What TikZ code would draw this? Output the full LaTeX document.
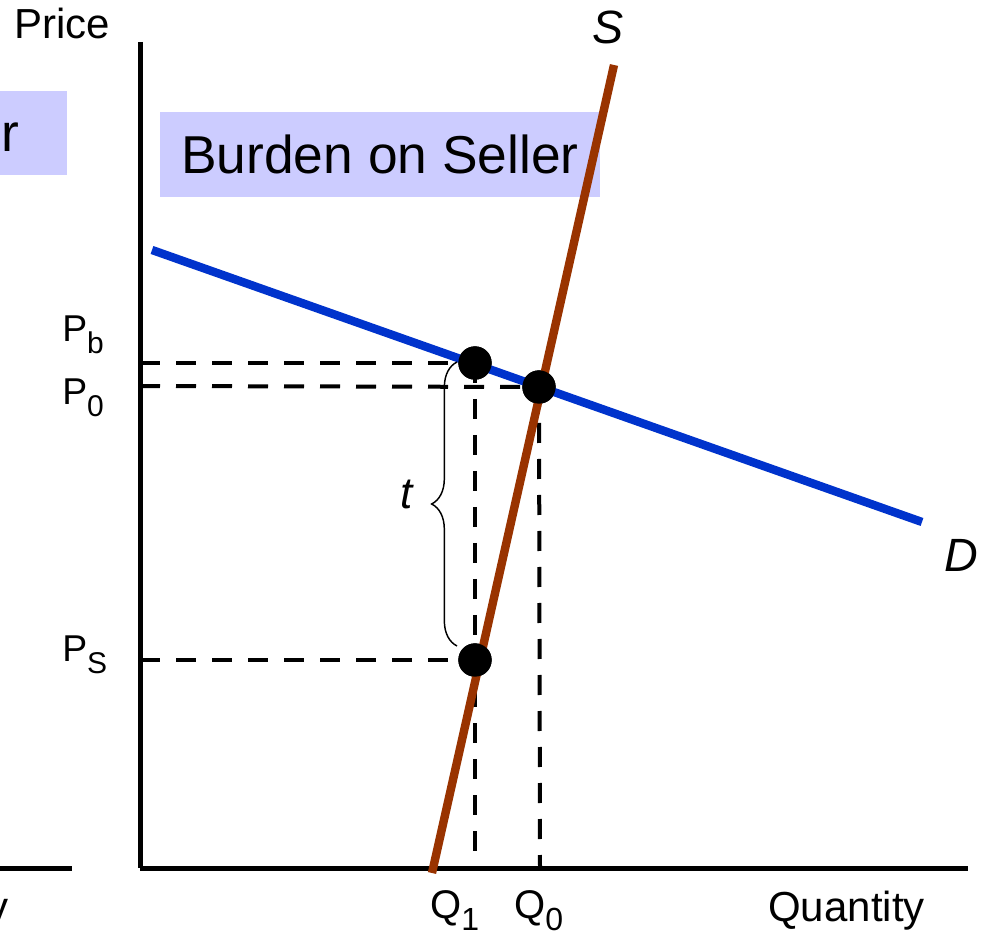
\documentclass[tikz,border=0pt]{standalone}
\usepackage{fontspec}
\setmainfont{Liberation Sans}
\usetikzlibrary{decorations.pathreplacing}
\definecolor{dblue}{HTML}{0033CC}
\definecolor{sbrown}{HTML}{993300}
\definecolor{boxfill}{HTML}{CCCCFF}
\tikzset{
  axisline/.style={line width=3.75pt},
  curveline/.style={line width=6.3pt},
  guide/.style={line width=3pt, dash pattern=on 15pt off 12pt},
  eqdot/.style={circle, fill=black, inner sep=0pt, minimum size=25pt},
  lbl/.style={inner sep=0pt, font=\fontsize{28}{32}\selectfont},
  qlbl/.style={inner sep=0pt, font=\fontsize{30}{34}\selectfont},
  axlbl/.style={inner sep=0pt, font=\fontsize{31.5}{36}\selectfont},
  curvelbl/.style={inner sep=0pt, font=\fontsize{35}{40}\selectfont\itshape},
  burden/.style={fill=boxfill, inner sep=0pt, minimum width=330pt, minimum height=63.75pt, font=\fontsize{40}{46}\selectfont}
}
\newcommand{\sbP}[1]{\raisebox{-9pt}{\fontsize{22.5}{26}\selectfont #1}}
\newcommand{\sbQ}[1]{\raisebox{-9pt}{\fontsize{24}{28}\selectfont #1}}
\begin{document}
\begin{tikzpicture}[x=0.75pt, y=-0.75pt]
\useasboundingbox (0,0) rectangle (982,937);
\begin{scope}
\clip (0,0) rectangle (982,937);
% fragments of the neighbouring diagram
\fill[boxfill] (-300,91) rectangle (67,175);
\node[anchor=base east, inner sep=0pt, font=\fontsize{40}{46}\selectfont] (buyer) at (20,152) {Burden on Buyer};
\draw[axisline] (-100,868) -- (72,868);
\node[axlbl, anchor=base east] (qleft) at (9,921) {Quantity};
% box
\node[burden] (seller) at (380,154.5) {Burden on Seller};
% coordinates
\coordinate (ytop) at (140,42);
\coordinate (orig) at (140,868);
\coordinate (xend) at (968,868);
\coordinate (yb) at (140,363);
\coordinate (y0) at (140,386);
\coordinate (ys) at (140,660);
\coordinate (x1) at (475,868);
\coordinate (x0) at (540,868);
\coordinate (d1) at (152,250);
\coordinate (d2) at (922,522);
\coordinate (s1) at (432,873);
\coordinate (s2) at (614,65);
% dots (positions)
\node[eqdot] (eb) at (475,363) {};
\node[eqdot] (e0) at (539,387) {};
\node[eqdot] (es) at (475,660) {};
% dashed guides
\draw[guide] (yb) -- (eb.center);
\draw[guide] (y0) -- (e0.center);
\draw[guide] (ys) -- (es.center);
\draw[guide] (eb.center) -- (x1);
\draw[guide] (e0.center) -- (x0);
% axes
\draw[axisline] (ytop) -- (orig);
\draw[axisline] (orig) -- (xend);
% curves
\draw[curveline, dblue] (d1) -- (d2);
\draw[curveline, sbrown] (s1) -- (s2);
% dots on top
\node[eqdot] at (eb) {};
\node[eqdot] at (e0) {};
\node[eqdot] at (es) {};
% brace
\coordinate (bb) at (457,646);
\coordinate (bt) at (457,362);
\draw[line width=1.1pt, decorate, decoration={brace, amplitude=19pt}] (bb) -- (bt);
% labels
\node[axlbl, anchor=base west] (price) at (14,39) {Price};
\node[axlbl, anchor=base west] (quant) at (768,921) {Quantity};
\node[lbl, anchor=base west] (pb) at (62,342) {P\sbP{b}};
\node[lbl, anchor=base west] (p0) at (62,405) {P\sbP{0}};
\node[lbl, anchor=base west] (ps) at (62,662) {P\sbP{S}};
\node[qlbl, anchor=base west] (q1) at (430,918) {Q\sbQ{1}};
\node[qlbl, anchor=base west] (q0) at (514,918) {Q\sbQ{0}};
\node[curvelbl, anchor=base west] (slbl) at (592,44) {S};
\node[curvelbl, anchor=base west] (dlbl) at (944,572) {D};
\node[inner sep=0pt, font=\fontsize{33}{38}\selectfont\itshape, anchor=base west] (tlbl) at (400,509) {t};
\end{scope}
\end{tikzpicture}
\end{document}
